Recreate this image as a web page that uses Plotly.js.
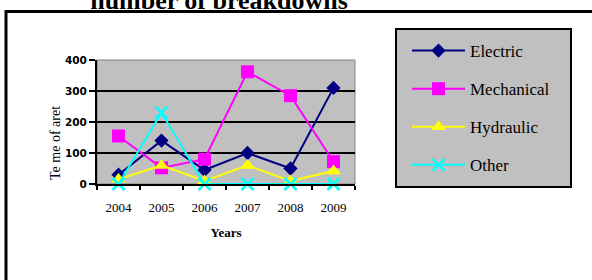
<!DOCTYPE html>
<html>
<head>
<meta charset="utf-8">
<script src="https://cdn.plot.ly/plotly-3.0.1.min.js"></script>
<style>
html,body{margin:0;padding:0;background:#fff;}
#chart{width:592px;height:280px;}
</style>
</head>
<body>
<div id="chart"></div>
<script>
const years = ['2004', '2005', '2006', '2007', '2008', '2009'];
const electric = [30, 140, 45, 100, 50, 310];
const mechanical = [155, 52, 80, 362, 285, 72];
const hydraulic = [15, 60, 10, 60, 10, 42];
const other = [0, 230, 0, 0, 0, 0];
const seriesNames = ['Electric', 'Mechanical', 'Hydraulic', 'Other'];
const yTicks = [0, 100, 200, 300, 400];

const serif = 'Liberation Serif, Times New Roman, serif';
const W = 592, H = 280;
const L = 97, R = 355, T = 60, B = 184;
const px = x => (x - L) / (R - L);
const py = y => (B - y) / (B - T);

function tr(name, y, color, symbol, size, group) {
  return {
    type: 'scatter', mode: 'lines+markers', name: name, x: years, y: y,
    legendgroup: group,
    line: {color: color, width: 2},
    marker: {symbol: symbol, size: size, color: color,
             line: {color: color, width: symbol.indexOf('x') === 0 ? 2.5 : 0}},
    cliponaxis: false
  };
}

const data = [
  tr(seriesNames[0], electric, '#000080', 'diamond', 11, 'a'),
  tr(seriesNames[1], mechanical, '#FF00FF', 'square', 13, 'b'),
  tr(seriesNames[2], hydraulic, '#FFFF00', 'triangle-up', 13, 'c'),
  tr(seriesNames[3], other, '#00FFFF', 'x-thin', 12, 'd')
];

const layout = {
  width: W, height: H,
  margin: {l: L, r: W - R, t: T, b: H - B, pad: 0},
  paper_bgcolor: '#FFFFFF',
  plot_bgcolor: '#C0C0C0',
  title: {
    text: 'number of breakdowns',
    font: {family: serif, size: 26, color: '#000', weight: 'bold'},
    x: 219 / W, xanchor: 'center', xref: 'container',
    y: 1.0, yanchor: 'middle', yref: 'container'
  },
  xaxis: {
    type: 'category',
    range: [-0.5, 5.5],
    tickson: 'boundaries',
    ticks: 'outside', ticklen: 4, tickwidth: 1.5, tickcolor: '#000',
    ticklabelstandoff: 10,
    showline: true, linecolor: '#000', linewidth: 2,
    showgrid: false, zeroline: false,
    tickfont: {family: serif, size: 13, color: '#000'},
    title: {text: 'Years', font: {family: serif, size: 13, color: '#000', weight: 'bold'}, standoff: 14}
  },
  yaxis: {
    range: [0, 400],
    tickvals: yTicks,
    ticks: 'outside', ticklen: 6, tickwidth: 2, tickcolor: '#000',
    showline: true, linecolor: '#000', linewidth: 2,
    showgrid: true, gridcolor: '#000', gridwidth: 2,
    zeroline: false,
    tickfont: {family: 'DejaVu Sans, Arial, sans-serif', size: 10.5, color: '#000', weight: 'bold'}
  },
  showlegend: true,
  legend: {
    x: px(407), xanchor: 'left', xref: 'paper',
    y: py(33), yanchor: 'top', yref: 'paper',
    bgcolor: 'rgba(0,0,0,0)', borderwidth: 0,
    font: {family: serif, size: 17, color: '#000'},
    itemwidth: 53,
    tracegroupgap: 13,
    traceorder: 'grouped',
    maxheight: 400
  },
  shapes: [
    {type: 'rect', xref: 'paper', yref: 'paper', x0: px(6), x1: px(605), y0: py(300), y1: py(11.5),
     line: {color: '#000', width: 3}, fillcolor: 'rgba(0,0,0,0)', layer: 'below'},
    {type: 'rect', xref: 'paper', yref: 'paper', x0: px(396), x1: px(571), y0: py(187), y1: py(29),
     line: {color: '#000', width: 2}, fillcolor: '#C0C0C0', layer: 'below'},
    {type: 'rect', xref: 'paper', yref: 'paper', x0: 0, x1: 1, y0: 0, y1: 1,
     line: {color: '#808080', width: 1}, fillcolor: 'rgba(0,0,0,0)', layer: 'between'}
  ],
  annotations: [
    {text: 'Te me of aret', xref: 'paper', yref: 'paper', x: px(55), y: py(143),
     xanchor: 'center', yanchor: 'middle', textangle: -90, showarrow: false,
     font: {family: serif, size: 14, color: '#000'}}
  ]
};

Plotly.newPlot('chart', data, layout, {displayModeBar: false, staticPlot: true});
</script>
</body>
</html>
